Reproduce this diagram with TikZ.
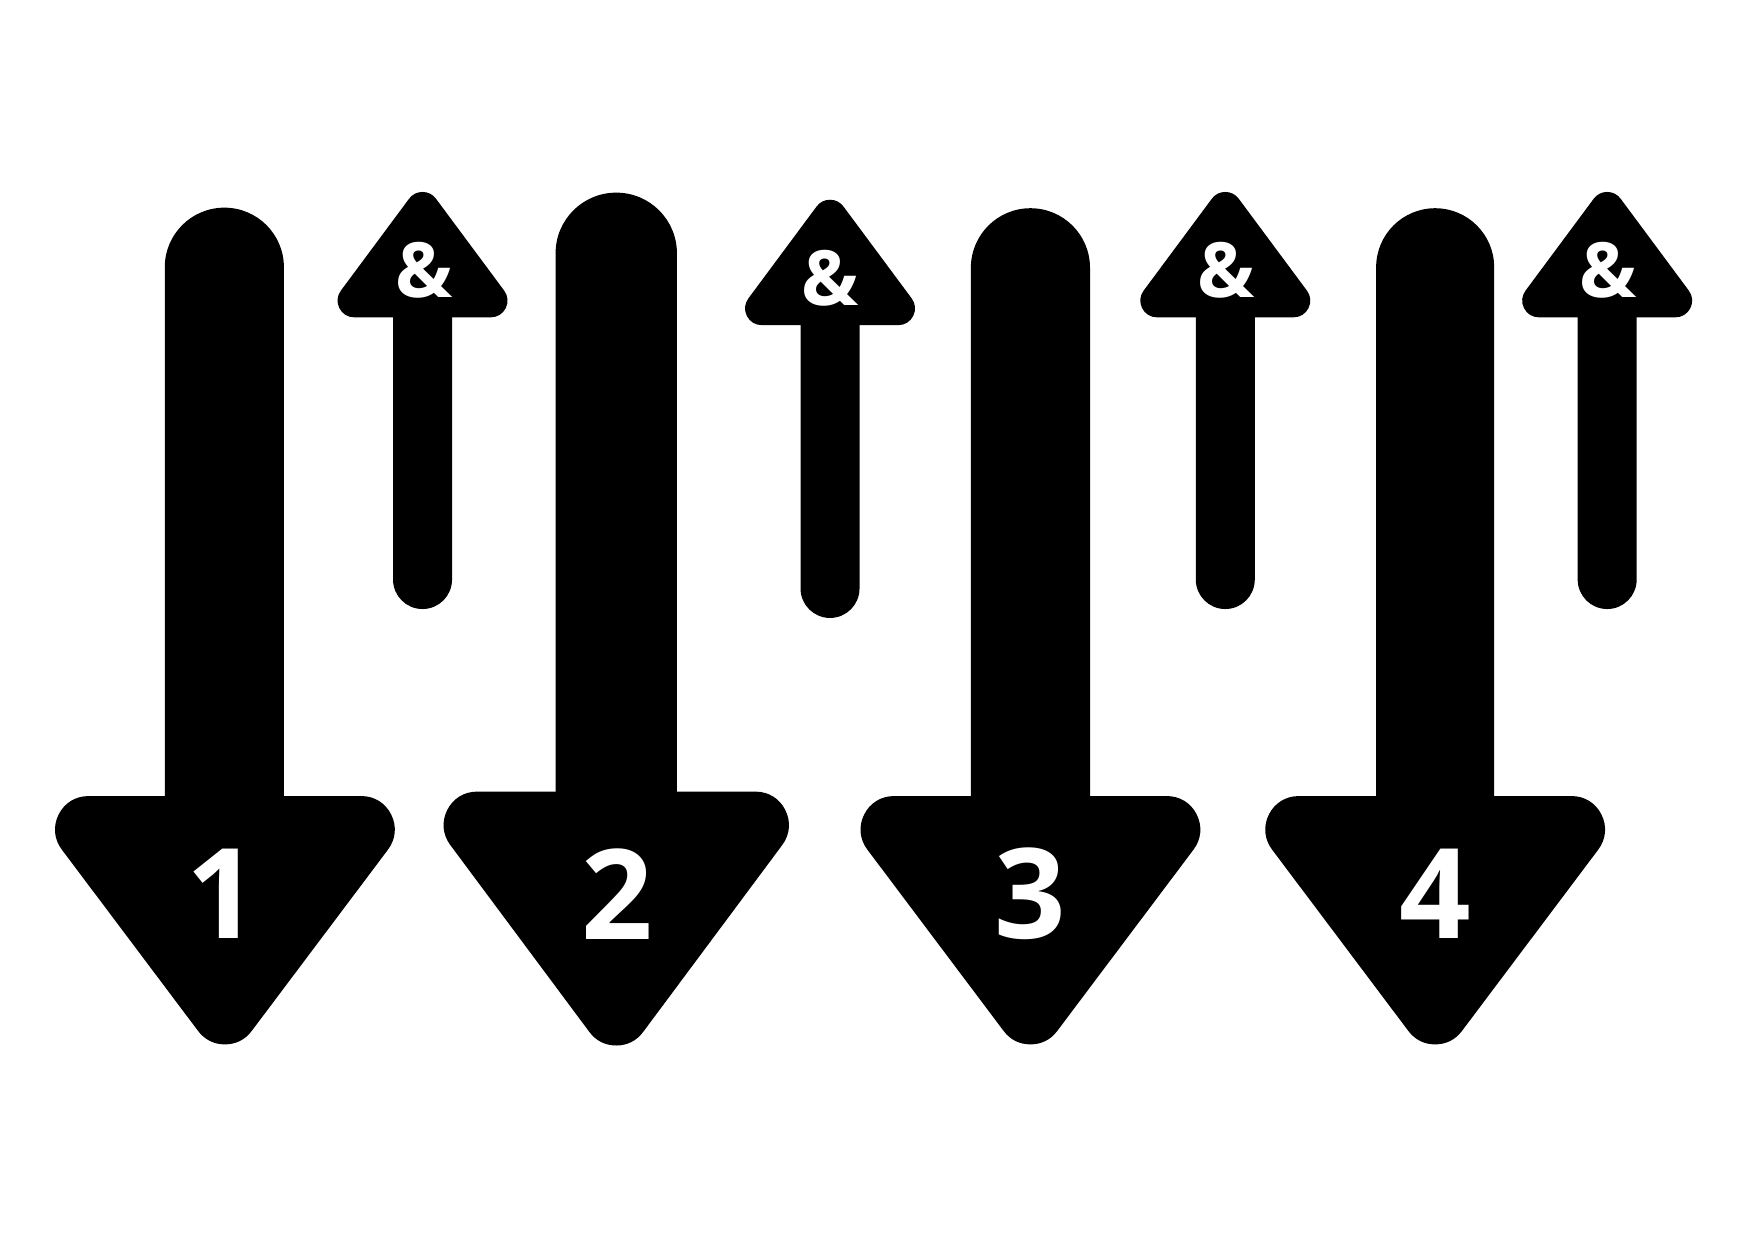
\documentclass[tikz,border=0pt]{standalone}
\usepackage{fontspec}
\setmainfont{Open Sans}
\begin{document}
\begin{tikzpicture}[
    x=0.01cm, y=-0.01cm,
    shaft/.style={fill=black},
    bighead/.style={fill=black, draw=black, line width=0.6cm, line join=round},
    smallhead/.style={fill=black, draw=black, line width=0.3cm, line join=round},
    numlabel/.style={text=white, inner sep=0pt, font=\fontsize{32}{32}\selectfont\bfseries},
    amplabel/.style={text=white, inner sep=0pt, font=\fontsize{19.5}{19.5}\selectfont\bfseries}
  ]
  \useasboundingbox (0,0) rectangle (1570,1114);

  % Down arrows
  \fill[shaft] (148,725) -- (148,240) arc (180:360:53.5) -- (255,725) -- cycle;
  \filldraw[bighead] (79.5,745) -- (324.5,745) -- (202,908) -- cycle;
  \node[numlabel] (num1) at (200,803) {1};

  \fill[shaft] (499,721) -- (499,227.5) arc (180:360:54.5) -- (608,721) -- cycle;
  \filldraw[bighead] (428.5,741) -- (678.5,741) -- (553.5,909) -- cycle;
  \node[numlabel] (num2) at (554,803) {2};

  \fill[shaft] (872,725) -- (872,240.5) arc (180:360:53.5) -- (979,725) -- cycle;
  \filldraw[bighead] (803,745) -- (1048,745) -- (925.5,908) -- cycle;
  \node[numlabel] (num3) at (925,803) {3};

  \fill[shaft] (1236,725) -- (1236,240) arc (180:360:53) -- (1342,725) -- cycle;
  \filldraw[bighead] (1166.5,745) -- (1411.5,745) -- (1289,908) -- cycle;
  \node[numlabel] (num4) at (1289,803) {4};

  % Up arrows
  \fill[shaft] (353,280) -- (353,520.5) arc (180:0:26.5) -- (406,280) -- cycle;
  \filldraw[smallhead] (318.2,270) -- (440.8,270) -- (379.5,187.4) -- cycle;
  \node[amplabel] (amp1) at (381,243) {\&};

  \fill[shaft] (719,287) -- (719,528.5) arc (180:0:26.5) -- (772,287) -- cycle;
  \filldraw[smallhead] (684.2,277) -- (806.8,277) -- (745.5,194.4) -- cycle;
  \node[amplabel] (amp2) at (746,250) {\&};

  \fill[shaft] (1074,280) -- (1074,520.5) arc (180:0:26.5) -- (1127,280) -- cycle;
  \filldraw[smallhead] (1039.2,270) -- (1161.8,270) -- (1100.5,187.4) -- cycle;
  \node[amplabel] (amp3) at (1101,243) {\&};

  \fill[shaft] (1417,280) -- (1417,520.5) arc (180:0:26.5) -- (1470,280) -- cycle;
  \filldraw[smallhead] (1382.2,270) -- (1504.8,270) -- (1443.5,187.4) -- cycle;
  \node[amplabel] (amp4) at (1444,243) {\&};
\end{tikzpicture}
\end{document}
